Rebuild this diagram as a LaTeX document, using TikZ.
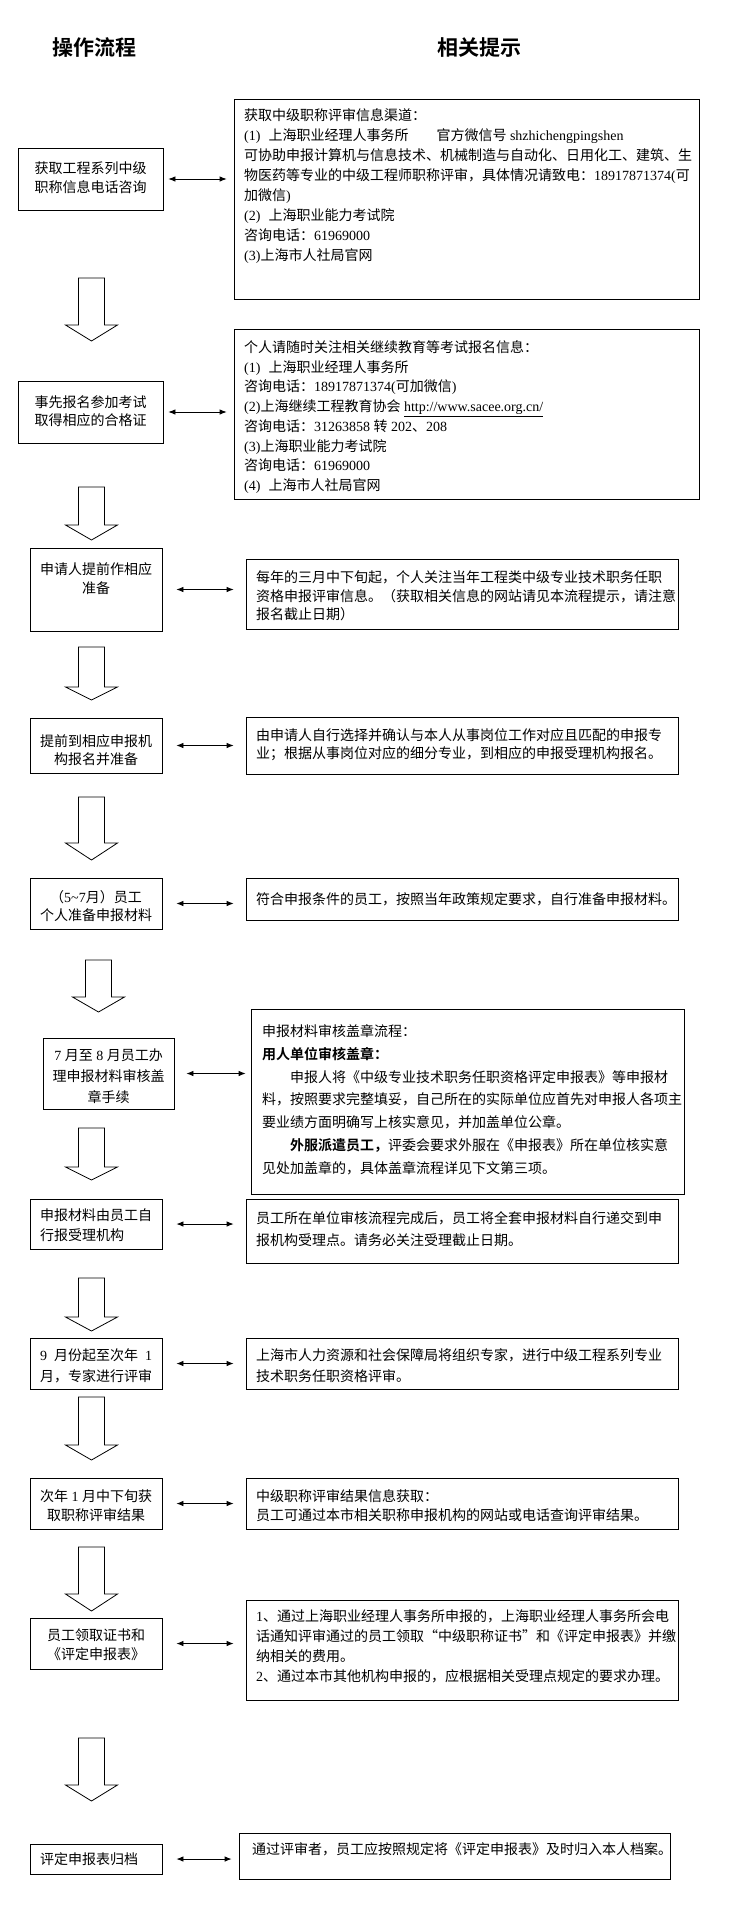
\documentclass[tikz,border=0pt]{standalone}
\usepackage{fontspec}
\setmainfont{Noto Sans CJK SC}[BoldFont={Noto Sans CJK SC Bold}]
\newfontfamily\latf{Liberation Serif}
\newcommand\lat[1]{{\latf #1}}
\newcommand\fs[1]{\fontsize{14pt}{#1pt}\selectfont}
\newcommand\fl{\rule{0pt}{14pt}}
\usetikzlibrary{arrows.meta}
\tikzset{
  box/.style={draw, line width=0.8pt, inner sep=0pt},
  txt/.style={inner sep=0pt, anchor=north west, align=left},
  ctxt/.style={inner sep=0pt, anchor=north, align=center},
  dbl/.style={{Latex[length=7pt,width=5.5pt]}-{Latex[length=7pt,width=5.5pt]}, line width=0.8pt},
  hollow/.style={draw, line width=0.8pt, line join=miter, fill=white},
  ttl/.style={font=\fontsize{21pt}{21pt}\selectfont\bfseries, inner sep=0pt}
}
\newcommand\hollowdown[4]{\draw[hollow] (#1-13,#2) -- (#1+13,#2) -- (#1+13,#3) -- (#1+26,#3) -- (#1,#4) -- (#1-26,#3) -- (#1-13,#3) -- cycle;}
\begin{document}
\begin{tikzpicture}[x=1pt,y=-1pt]
\fill[white] (0,0) rectangle (745,1906);
\useasboundingbox (0,0) rectangle (745,1906);

% titles
\node[ttl] (T1) at (94,48) {操作流程};
\node[ttl] (T2) at (479,48) {相关提示};

% left boxes
\node[box, minimum width=145pt, minimum height=62pt] (L1) at (90.5,179) {};
\node[box, minimum width=145pt, minimum height=62pt] (L2) at (90.5,412) {};
\node[box, minimum width=132pt, minimum height=83pt] (L3) at (96,589.5) {};
\node[box, minimum width=132pt, minimum height=55pt] (L4) at (96,745.5) {};
\node[box, minimum width=132pt, minimum height=51pt] (L5) at (96,903.5) {};
\node[box, minimum width=131pt, minimum height=71pt] (L6) at (108.5,1073.5) {};
\node[box, minimum width=132pt, minimum height=50pt] (L7) at (96,1224) {};
\node[box, minimum width=132pt, minimum height=51pt] (L8) at (96,1363.5) {};
\node[box, minimum width=132pt, minimum height=51pt] (L9) at (96,1503.5) {};
\node[box, minimum width=132pt, minimum height=51pt] (L10) at (96,1643.5) {};
\node[box, minimum width=132pt, minimum height=30pt] (L11) at (96,1859) {};

% left texts
\node[ctxt, font=\fs{19}] (L1t) at (90.5,159.3) {\fl 获取工程系列中级\\职称信息电话咨询};
\node[ctxt, font=\fs{18}] (L2t) at (90.5,393.3) {\fl 事先报名参加考试\\取得相应的合格证};
\node[ctxt, font=\fs{19}] (L3t) at (96,560.3) {\fl 申请人提前作相应\\准备};
\node[ctxt, font=\fs{18}] (L4t) at (96,732.3) {\fl 提前到相应申报机\\构报名并准备};
\node[ctxt, font=\fs{18}] (L5t) at (96,888.3) {\fl （\lat{5\textasciitilde7}月）员工\\个人准备申报材料};
\node[ctxt, font=\fs{21}] (L6t) at (108.5,1046.3) {\fl \lat{7 }月至\lat{ 8 }月员工办\\理申报材料审核盖\\章手续};
\node[txt, font=\fs{20}] (L7t) at (40,1206.3) {\fl 申报材料由员工自\\行报受理机构};
\node[txt, font=\fs{21}] (L8t) at (40,1346.3) {\fl \lat{9}\hspace{7pt}月份起至次年\hspace{7pt}\lat{1}\\月，专家进行评审};
\node[ctxt, font=\fs{19}] (L9t) at (96,1487.3) {\fl 次年\lat{ 1 }月中下旬获\\取职称评审结果};
\node[ctxt, font=\fs{19}] (L10t) at (96,1626.3) {\fl 员工领取证书和\\《评定申报表》};
\node[txt, font=\fs{20}] (L11t) at (40,1850.3) {\fl 评定申报表归档};

% right boxes
\node[box, minimum width=465pt, minimum height=200pt] (R1) at (466.5,199) {};
\node[box, minimum width=465pt, minimum height=170pt] (R2) at (466.5,414) {};
\node[box, minimum width=432pt, minimum height=70pt] (R3) at (462,594) {};
\node[box, minimum width=432pt, minimum height=57pt] (R4) at (462,745.5) {};
\node[box, minimum width=432pt, minimum height=42pt] (R5) at (462,899) {};
\node[box, minimum width=433pt, minimum height=185pt] (R6) at (467.5,1101.5) {};
\node[box, minimum width=432pt, minimum height=64pt] (R7) at (462,1231) {};
\node[box, minimum width=432pt, minimum height=51pt] (R8) at (462,1363.5) {};
\node[box, minimum width=432pt, minimum height=51pt] (R9) at (462,1503.5) {};
\node[box, minimum width=432pt, minimum height=100pt] (R10) at (462,1650) {};
\node[box, minimum width=431pt, minimum height=46pt] (R11) at (454.5,1856) {};

% right texts
\node[txt, font=\fs{20}] (R1t) at (244,106.3) {\fl 获取中级职称评审信息渠道：\\
\lat{(1)}\hspace{8pt}上海职业经理人事务所\hspace{28pt}官方微信号\lat{ shzhichengpingshen}\\
可协助申报计算机与信息技术、机械制造与自动化、日用化工、建筑、生\\
物医药等专业的中级工程师职称评审，具体情况请致电：\lat{18917871374(}可\\
加微信\lat{)}\\
\lat{(2)}\hspace{8pt}上海职业能力考试院\\
咨询电话：\lat{61969000}\\
\lat{(3)}上海市人社局官网};

\node[txt, font=\fs{19.7}] (R2t) at (244,338.3) {\fl 个人请随时关注相关继续教育等考试报名信息：\\
\lat{(1)}\hspace{8pt}上海职业经理人事务所\\
咨询电话：\lat{18917871374(}可加微信\lat{)}\\
\lat{(2)}上海继续工程教育协会\lat{ \underline{http://www.sacee.org.cn/}}\\
咨询电话：\lat{31263858 }转\lat{ 202}、\lat{208}\\
\lat{(3)}上海职业能力考试院\\
咨询电话：\lat{61969000}\\
\lat{(4)}\hspace{8pt}上海市人社局官网};

\node[txt, font=\fs{18.7}] (R3t) at (256,568.3) {\fl 每年的三月中下旬起，个人关注当年工程类中级专业技术职务任职\\
资格申报评审信息。（获取相关信息的网站请见本流程提示，请注意\\
报名截止日期）};

\node[txt, font=\fs{18}] (R4t) at (256,726.3) {\fl 由申请人自行选择并确认与本人从事岗位工作对应且匹配的申报专\\
业；根据从事岗位对应的细分专业，到相应的申报受理机构报名。};

\node[txt, font=\fs{20}] (R5t) at (256,890.3) {\fl 符合申报条件的员工，按照当年政策规定要求，自行准备申报材料。};

\node[txt, font=\fs{22.8}] (R6t) at (262,1022.3) {\fl 申报材料审核盖章流程：\\
\textbf{用人单位审核盖章：}\\
\hspace{28pt}申报人将《中级专业技术职务任职资格评定申报表》等申报材\\
料，按照要求完整填妥，自己所在的实际单位应首先对申报人各项主\\
要业绩方面明确写上核实意见，并加盖单位公章。\\
\hspace{28pt}\textbf{外服派遣员工，}评委会要求外服在《申报表》所在单位核实意\\
见处加盖章的，具体盖章流程详见下文第三项。};

\node[txt, font=\fs{22}] (R7t) at (256,1209.3) {\fl 员工所在单位审核流程完成后，员工将全套申报材料自行递交到申\\
报机构受理点。请务必关注受理截止日期。};

\node[txt, font=\fs{21}] (R8t) at (256,1346.3) {\fl 上海市人力资源和社会保障局将组织专家，进行中级工程系列专业\\
技术职务任职资格评审。};

\node[txt, font=\fs{19}] (R9t) at (256,1487.3) {\fl 中级职称评审结果信息获取：\\
员工可通过本市相关职称申报机构的网站或电话查询评审结果。};

\node[txt, font=\fs{20}] (R10t) at (256,1607.3) {\fl \lat{1}、通过上海职业经理人事务所申报的，上海职业经理人事务所会电\\
话通知评审通过的员工领取“中级职称证书”和《评定申报表》并缴\\
纳相关的费用。\\
\lat{2}、通过本市其他机构申报的，应根据相关受理点规定的要求办理。};

\node[txt, font=\fs{20}] (R11t) at (252,1840.3) {\fl 通过评审者，员工应按照规定将《评定申报表》及时归入本人档案。};

% double arrows
\draw[dbl, shorten <=5pt, shorten >=7pt] (L1.east) -- (L1.east -| R1.west);
\draw[dbl, shorten <=5pt, shorten >=7pt] (L2.east) -- (L2.east -| R2.west);
\draw[dbl, shorten <=14pt, shorten >=12pt] (L3.east) -- (L3.east -| R3.west);
\draw[dbl, shorten <=14pt, shorten >=12pt] (L4.east) -- (L4.east -| R4.west);
\draw[dbl, shorten <=14pt, shorten >=12pt] (L5.east) -- (L5.east -| R5.west);
\draw[dbl, shorten <=12pt, shorten >=5pt] (L6.east) -- (L6.east -| R6.west);
\draw[dbl, shorten <=14pt, shorten >=12pt] (L7.east) -- (L7.east -| R7.west);
\draw[dbl, shorten <=14pt, shorten >=12pt] (L8.east) -- (L8.east -| R8.west);
\draw[dbl, shorten <=14pt, shorten >=12pt] (L9.east) -- (L9.east -| R9.west);
\draw[dbl, shorten <=14pt, shorten >=12pt] (L10.east) -- (L10.east -| R10.west);
\draw[dbl, shorten <=14pt, shorten >=7pt] (L11.east) -- (L11.east -| R11.west);

% hollow flow arrows
\hollowdown{91.5}{278}{325}{341}
\hollowdown{91.5}{487}{525}{540}
\hollowdown{91.5}{647}{687}{700}
\hollowdown{91.5}{797}{843}{860}
\hollowdown{98.5}{960}{997}{1012}
\hollowdown{91.5}{1128}{1167}{1180}
\hollowdown{91.5}{1278}{1317}{1331}
\hollowdown{91.5}{1397}{1445}{1460}
\hollowdown{91.5}{1547}{1594}{1611}
\hollowdown{91.5}{1738}{1785}{1801}
\end{tikzpicture}
\end{document}
